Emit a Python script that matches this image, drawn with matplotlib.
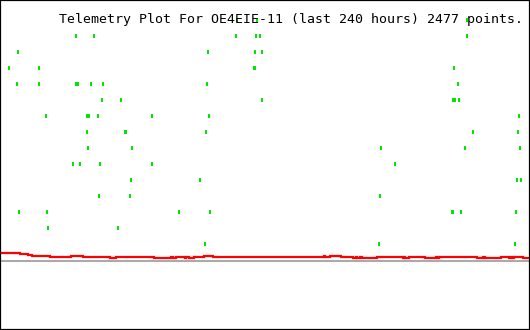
import matplotlib
matplotlib.use('Agg')
import matplotlib.pyplot as plt

# Data (x in hours over the last 240 h, y in raw plot units, 0 = grey base line)
green_hours = [107.3, 116.4, 211.5,
               34.4, 42.6, 106.9, 115.9, 117.7, 211.5,
               8.2, 94.2, 115.5, 118.6,
               4.1, 17.7, 115.0, 115.5, 205.6,
               7.7, 17.7, 34.4, 35.3, 41.2, 46.6, 93.7, 207.4,
               46.2, 54.8, 118.6, 205.1, 206.0, 207.8,
               20.8, 39.4, 40.3, 44.4, 68.8, 94.6, 235.0,
               39.4, 56.6, 57.1, 93.3, 214.2, 234.6,
               39.8, 59.8, 172.5, 210.6, 235.5,
               33.1, 36.2, 45.3, 68.8, 178.9,
               59.3, 90.6, 234.1, 235.9,
               44.8, 58.9, 172.1,
               8.6, 21.3, 81.1, 95.1, 204.7, 205.1, 208.8, 233.7,
               21.7, 53.4,
               92.8, 171.6, 233.2]
green_vals = [240] * 3 + [224] * 6 + [208] * 4 + [192] * 5 + [176] * 8 + \
             [160] * 6 + [144] * 7 + [128] * 6 + [112] * 5 + [96] * 5 + \
             [80] * 4 + [64] * 3 + [48] * 8 + [32] * 2 + [16] * 3

red_hours = [0, 9.1, 12.7, 14.5, 22.6, 32.2, 37.6, 49.8, 52.5, 69.7, 77.4,
             78.3, 79.7, 83.8, 84.2, 85.6, 87.8, 92.4, 96.5, 146.7, 147.2,
             149.4, 154.4, 159.8, 161.2, 161.7, 163.0, 163.9, 170.7, 182.5,
             182.9, 183.4, 185.2, 192.5, 197.4, 198.3, 198.8, 216.0, 218.7,
             219.6, 226.9, 230.5, 231.4, 232.3, 232.8, 236.8, 240]
red_vals = [7, 6, 5, 4, 3, 4, 3, 2, 3, 2, 3,
            2, 3, 2, 3, 2, 3, 4, 3, 4, 3,
            4, 3, 2, 3, 2, 3, 2, 3, 2,
            3, 2, 3, 2, 3, 2, 3, 2, 3,
            2, 3, 2, 3, 2, 3, 2, 2]

title = 'Telemetry Plot For OE4EIE-11 (last 240 hours) 2477 points.'

fig = plt.figure(figsize=(5.3, 3.3), dpi=100)
ax = fig.add_axes([0, 0, 1, 1])

ax.axhline(-0.6, color='#aaaaaa', linewidth=1.5, zorder=1)
ax.plot(red_hours, red_vals, drawstyle='steps-post', color='#ff0000',
        linewidth=1.6, solid_joinstyle='miter', zorder=2)

# each green sample is a tiny 1x2 px tick
dot = [(-0.25, -0.5), (0.25, -0.5), (0.25, 0.5), (-0.25, 0.5)]
ax.plot(green_hours, green_vals, linestyle='none', marker=dot,
        markersize=2.2, color='#00e600', markeredgewidth=0, zorder=3)

ax.set_xlim(0, 240)
ax.set_ylim(-70, 260)
ax.set_xticks([])
ax.set_yticks([])
for s in ax.spines.values():
    s.set_linewidth(1.6)
    s.set_color('black')

fig.text(523 / 530, 1 - 23 / 330, title, ha='right', va='baseline',
         family='DejaVu Sans Mono', fontsize=9.5, color='black')

plt.savefig('out.png', dpi=100, facecolor='white')
plt.close()
